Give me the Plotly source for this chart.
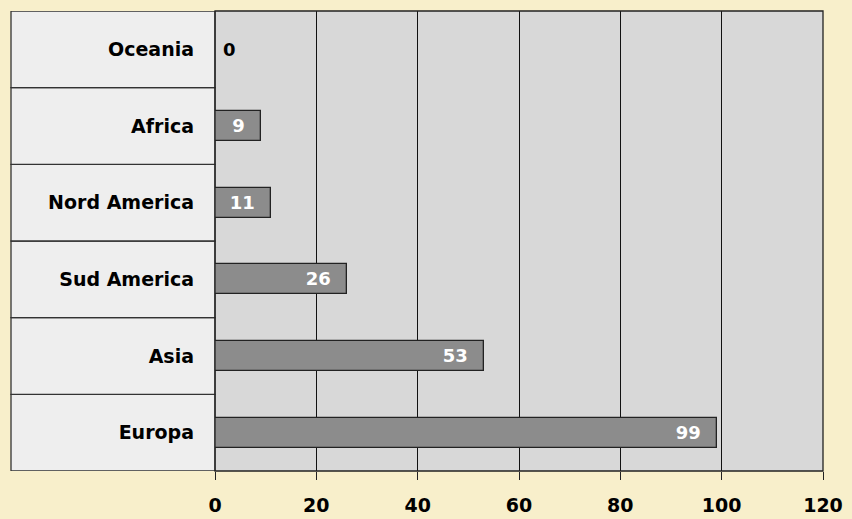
import plotly.graph_objects as go

# Data
regions = ["Europa", "Asia", "Sud America", "Nord America", "Africa", "Oceania"]
counts = [99, 53, 26, 11, 9, 0]
x_ticks = [0, 20, 40, 60, 80, 100, 120]

BG = "#F8EFCB"
CELL = "#EEEEEE"
PLOT = "#D8D8D8"
BAR = "#8C8C8C"
FONT = "DejaVu Sans"

W, H = 852, 519
ML, MR, MT, MB = 11, 29, 11, 48
table_right = 215
dom0 = (table_right - ML) / (W - ML - MR)

# non-zero bars carry their value inside, padded away from the bar end
labels = [str(v) + "\u00a0\u00a0" if v else "" for v in counts]

fig = go.Figure()
fig.add_trace(go.Bar(
    y=regions, x=counts, orientation="h",
    marker=dict(color=BAR, line=dict(color="#222222", width=1.3)),
    width=0.39,
    text=labels,
    textposition="inside",
    insidetextanchor="end",
    constraintext="none",
    insidetextfont=dict(family=FONT, size=18, color="white", weight="bold"),
    cliponaxis=False,
    hoverinfo="skip",
))

# zero-valued bars: value written just right of the axis
annotations = [
    dict(x=v, y=r, xref="x", yref="y", text=str(v), showarrow=False,
         xanchor="left", xshift=6,
         font=dict(family=FONT, size=18, color="black", weight="bold"))
    for r, v in zip(regions, counts) if v == 0
]

shapes = []
# label cells on the left
for i in range(len(regions)):
    shapes.append(dict(type="rect", xref="paper", yref="y",
                       x0=0, x1=dom0, y0=i - 0.5, y1=i + 0.5,
                       fillcolor=CELL, line=dict(color="#333333", width=1.3),
                       layer="below"))
# plot frame
shapes.append(dict(type="rect", xref="paper", yref="paper",
                   x0=dom0, x1=1, y0=0, y1=1,
                   line=dict(color="#222222", width=1.3), layer="above"))

fig.update_layout(
    width=W, height=H,
    margin=dict(l=ML, r=MR, t=MT, b=MB, autoexpand=False),
    paper_bgcolor=BG, plot_bgcolor=PLOT,
    showlegend=False,
    bargap=0,
    shapes=shapes,
    annotations=annotations,
    font=dict(family=FONT, color="black"),
    uniformtext=dict(mode=False),
    xaxis=dict(domain=[dom0, 1], range=[0, 120], tickvals=x_ticks,
               showgrid=True, gridcolor="#111111", gridwidth=1.2,
               zeroline=False, ticks="outside", ticklen=8, tickcolor="#222222",
               tickwidth=1.2, ticklabelstandoff=9, automargin=False,
               tickfont=dict(family=FONT, size=19, color="black", weight="bold"),
               fixedrange=True),
    yaxis=dict(range=[-0.5, 5.5], showgrid=False, zeroline=False,
               ticks="", ticklabelstandoff=20, automargin=False,
               tickfont=dict(family=FONT, size=19, color="black", weight="bold"),
               fixedrange=True),
)

fig.write_html("out.html")
